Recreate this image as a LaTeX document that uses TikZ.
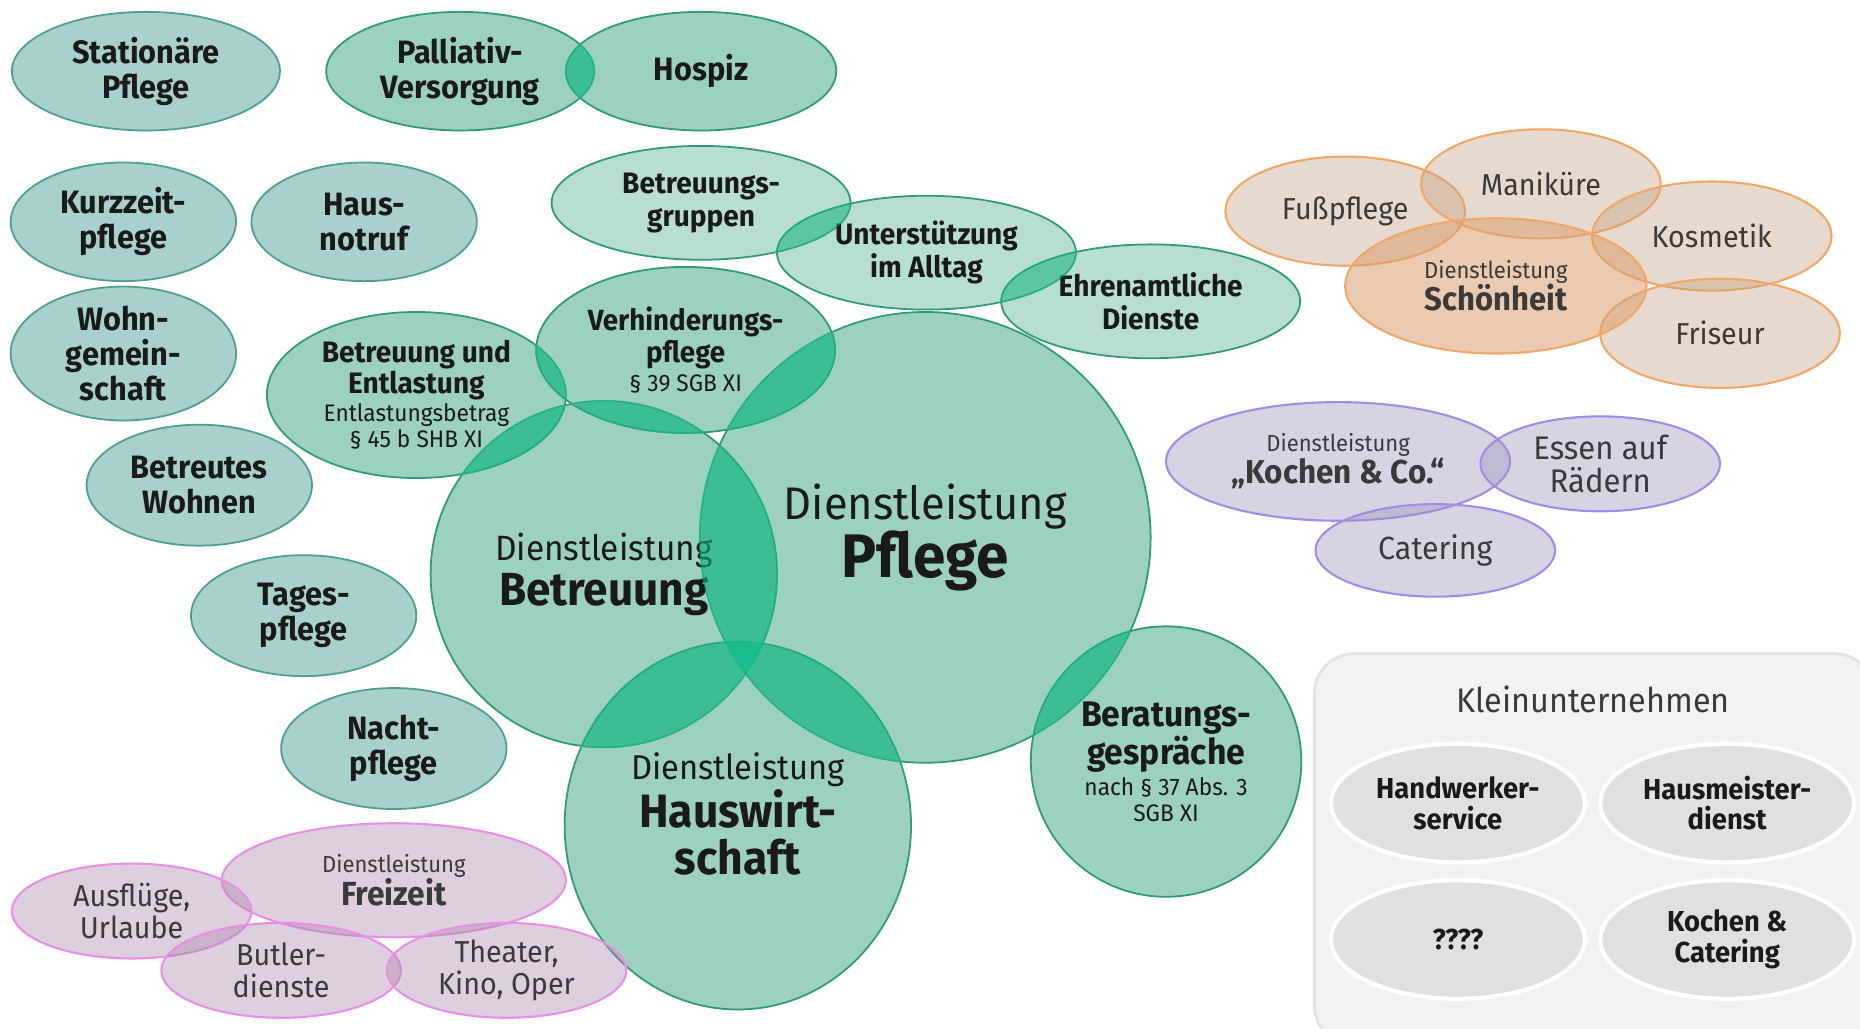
\documentclass[tikz,border=0pt]{standalone}
\usepackage{fontspec}
\setmainfont{Fira Sans}[FakeStretch=0.95]
\usetikzlibrary{shapes.geometric}
\usetikzlibrary{calc}

\definecolor{textdark}{HTML}{1A1A1A}
\definecolor{textgray}{HTML}{3A3A3A}
\definecolor{tealfill}{HTML}{A8D0CC}
\definecolor{tealline}{HTML}{4E9E92}
\definecolor{greenfill}{HTML}{4DAD8C}
\definecolor{greenline}{HTML}{2E9A78}
\definecolor{overlapfill}{HTML}{14BE8C}
\definecolor{orangefill}{HTML}{C5A284}
\definecolor{schoenfill}{HTML}{D9A070}
\definecolor{orangeline}{HTML}{F0A868}
\definecolor{lilafill}{HTML}{9D93BB}
\definecolor{lilaline}{HTML}{A48CE6}
\definecolor{rosafill}{HTML}{AC89AC}
\definecolor{rosaline}{HTML}{E890E8}
\definecolor{kastenfill}{HTML}{F2F2F2}
\definecolor{kastenline}{HTML}{E3E3E3}
\definecolor{firmfill}{HTML}{E0E0E0}

\newcommand\dlklein{{\mdseries\fontsize{6.6}{7}\selectfont Dienstleistung}}
\newcommand\fein{\mdseries\fontsize{6.8}{7.2}\selectfont}

\tikzset{
	every node/.append style={align=center, inner sep=0pt, text=textdark},
	blob/.style 2 args={ellipse,
		minimum width=2*#1*0.011862cm,
		minimum height=2*#2*0.011862cm},
	gross/.style={font=\fontsize{9.2}{9.9}\selectfont\bfseries},
	mittel/.style={font=\fontsize{8.4}{9.4}\selectfont\bfseries},
	wohnform/.style={draw=tealline, fill=tealfill, line width=0.5pt, gross},
	pflege/.style={draw=greenline, fill=greenfill, fill opacity=0.55,
		text opacity=1, line width=0.5pt},
	hellgruen/.style={pflege, fill opacity=0.4},
	overlap/.style={fill=overlapfill, fill opacity=#1},
	bunt/.style={fill opacity=0.4, text opacity=1, line width=0.6pt,
		text=textgray, font=\fontsize{8.6}{9.2}\selectfont},
	schoen/.style={bunt, draw=orangeline, fill=orangefill},
	kochen/.style={bunt, draw=lilaline, fill=lilafill},
	freizeit/.style={bunt, draw=rosaline, fill=rosafill},
	kasten/.style={rectangle, rounded corners=0.4cm, draw=kastenline,
		fill=kastenfill, line width=0.8pt},
	firma/.style={draw=white, fill=firmfill, line width=1.2pt,
		font=\fontsize{8.2}{8.7}\selectfont\bfseries}
}

\begin{document}
\begin{tikzpicture}[x=0.011862cm, y=-0.011862cm]

	\clip (0,0) rectangle (1568,867);
	\fill[white] (0,0) rectangle (1568,867);

	\node[wohnform, blob={113}{50}] (stationaer) at (123,60) {Stationäre\\Pflege};
	\node[wohnform, blob={95}{50}] (kurzzeit) at (104,187) {Kurzzeit-\\pflege};
	\node[wohnform, blob={95}{50}] (notruf) at (307,187) {Haus-\\notruf};
	\node[wohnform, blob={95}{51}] (wg) at (104,298) {Wohn-\\gemein-\\schaft};
	\node[wohnform, blob={95}{51}] (betreutes) at (168,409) {Betreutes\\Wohnen};
	\node[wohnform, blob={95}{51}] (tages) at (256,519) {Tages-\\pflege};
	\node[wohnform, blob={95}{51}] (nacht) at (332,631) {Nacht-\\pflege};

	\node[pflege, gross, blob={113}{50}] (palliativ) at (388,60) {Palliativ-\\Versorgung};
	\node[pflege, gross, blob={114}{50}] (hospiz) at (591,60) {Hospiz};

	\node[hellgruen, mittel, blob={126}{48}] (gruppen) at (591,171) {Betreuungs-\\gruppen};
	\node[hellgruen, mittel, blob={126}{48}] (alltag) at (781,213) {Unterstützung\\im Alltag};
	\node[hellgruen, mittel, blob={126}{48}] (ehrenamt) at (970,254) {Ehrenamtliche\\Dienste};

	\node[pflege, blob={190}{190}, font=\fontsize{17.5}{16.5}\selectfont\bfseries] (pflege) at (780,453)
		{{\mdseries\fontsize{13}{15}\selectfont Dienstleistung}\\Pflege};
	\node[pflege, blob={146}{146}, font=\fontsize{13.2}{12.8}\selectfont\bfseries] (betreuung) at (509,484)
		{{\mdseries\fontsize{10}{12}\selectfont Dienstleistung}\\Betreuung};
	\node[pflege, blob={146}{155}, font=\fontsize{13.3}{13.4}\selectfont\bfseries] (hauswirt) at (622,696)
		{{\mdseries\fontsize{9.8}{12}\selectfont Dienstleistung}\\Hauswirt-\\schaft\\[-6.6pt]\rule{0pt}{0pt}};
	\node[pflege, blob={126}{70}, font=\fontsize{8.4}{8.7}\selectfont\bfseries] (entlastung) at (351,333)
		{Betreuung und\\Entlastung\\[-0.6pt]\fein Entlastungsbetrag\\[-1.3pt]\fein § 45 b SHB XI};
	\node[pflege, blob={126}{70}, font=\fontsize{8.3}{9.1}\selectfont\bfseries] (verhinderung) at (578,295)
		{Verhinderungs-\\pflege\\[-1pt]\fein § 39 SGB XI};
	\node[pflege, blob={114}{114}, font=\fontsize{10.1}{10.8}\selectfont\bfseries] (beratung) at (983,642)
		{Beratungs-\\gespräche\\[-1.8pt]\fein nach § 37 Abs. 3\\[-3.6pt]\fein SGB XI};

	\foreach \a/\b/\o in {pflege/betreuung/0.55, pflege/hauswirt/0.55, betreuung/hauswirt/0.55,
		pflege/verhinderung/0.55, pflege/beratung/0.55, betreuung/verhinderung/0.55,
		betreuung/entlastung/0.55, entlastung/verhinderung/0.55, palliativ/hospiz/0.55,
		gruppen/alltag/0.4, alltag/ehrenamt/0.4}
	{
		\begin{scope}
			\clip let \p1=($(\a.east)-(\a.center)$), \p2=($(\a.north)-(\a.center)$)
				in (\a.center) ellipse ({\x1} and {\y2});
			\fill[overlap=\o] let \p1=($(\b.east)-(\b.center)$), \p2=($(\b.north)-(\b.center)$)
				in (\b.center) ellipse ({\x1} and {\y2});
		\end{scope}
	}

	\node[schoen, blob={101}{46}] (fuss) at (1134,178) {Fußpflege};
	\node[schoen, blob={101}{46}] (manikuere) at (1299,155) {Maniküre};
	\node[schoen, blob={101}{46}] (kosmetik) at (1443,199) {Kosmetik};
	\node[schoen, blob={101}{46}] (friseur) at (1450,281) {Friseur};
	\node[schoen, blob={127}{57}, fill=schoenfill, fill opacity=0.55] (schoenheit) at (1261,241)
		{\dlklein\\{\bfseries\fontsize{9.3}{10}\selectfont Schönheit}};

	\node[kochen, blob={145}{50}] (kochen) at (1128,389)
		{\dlklein\\{\bfseries\fontsize{9.4}{10}\selectfont „Kochen \& Co.“}};
	\node[kochen, blob={101}{40}, font=\fontsize{9.3}{9.4}\selectfont] (essen) at (1349,391) {Essen auf\\Rädern};
	\node[kochen, blob={101}{39}, font=\fontsize{9.1}{9.4}\selectfont] (catering) at (1210,464) {Catering};

	\node[freizeit, blob={145}{48}] (freizeit) at (332,742)
		{\dlklein\\{\bfseries\fontsize{9.5}{10}\selectfont Freizeit}};
	\node[freizeit, blob={101}{40}] (ausfluege) at (111,768) {Ausflüge,\\Urlaube};
	\node[freizeit, blob={101}{40}] (butler) at (237,818) {Butler-\\dienste};
	\node[freizeit, blob={101}{40}] (theater) at (427,818) {Theater,\\Kino, Oper};

	\node[kasten, minimum width=472*0.011862cm, minimum height=330*0.011862cm] (kasten) at (1344,716) {};
	\node[font=\fontsize{9.7}{12}\selectfont, text=textgray] (kleinuntern) at (1343,590) {Kleinunternehmen};
	\node[firma, blob={107}{50}] (handwerk) at (1229,677) {Handwerker-\\service};
	\node[firma, blob={107}{50}] (hausmeister) at (1456,677) {Hausmeister-\\dienst};
	\node[firma, blob={107}{50}] (fragen) at (1229,792) {????};
	\node[firma, blob={107}{50}] (kochcat) at (1456,792) {Kochen \&\\Catering};

\end{tikzpicture}
\end{document}
